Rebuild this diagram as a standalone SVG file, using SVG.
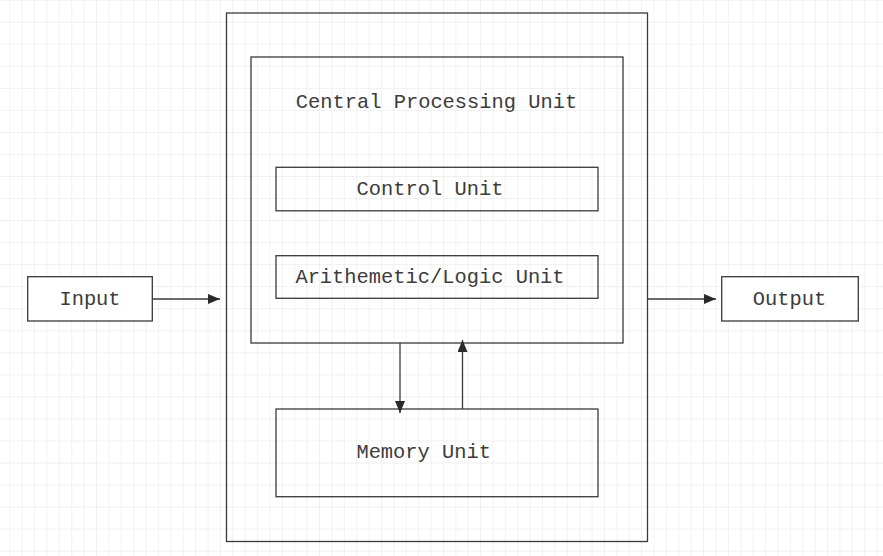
<svg xmlns="http://www.w3.org/2000/svg" width="883" height="556" viewBox="0 0 883 556">
<style>
.box{fill:#ffffff;stroke:#3a3a3a;stroke-width:1.3}
.frame{fill:none;stroke:#3a3a3a;stroke-width:1.3}
.lbl{font-family:"Liberation Mono","Courier New",monospace;font-size:20.4px;fill:#3c3c3c;text-anchor:middle}
.conn{stroke:#3a3a3a;stroke-width:1.3;fill:none}
</style>
<defs>
<pattern id="grid" x="9.3" y="0.66" width="12.39" height="22.04" patternUnits="userSpaceOnUse">
<path d="M0 0V22.04M0 22.04H12.39" fill="none" stroke="#ebebeb" stroke-width="1.3"/>
</pattern>
<marker id="arr" viewBox="0 0 12 10" refX="12" refY="5" markerWidth="12" markerHeight="10" markerUnits="userSpaceOnUse" orient="auto">
<path d="M0 0L12 5L0 10z" fill="#2a2a2a"/>
</marker>
</defs>
<rect width="883" height="556" fill="#ffffff"/>
<rect width="883" height="556" fill="url(#grid)"/>
<g id="computer"><rect class="frame" x="226.5" y="13" width="421" height="528.5"/></g>
<g id="cpu"><rect class="frame" x="251" y="57" width="372" height="286"/>
<text class="lbl" x="436.5" y="108">Central Processing Unit</text></g>
<g id="control-unit"><rect class="frame" x="276" y="167.3" width="322" height="43.5"/>
<text class="lbl" x="430" y="195">Control Unit</text></g>
<g id="alu"><rect class="frame" x="276" y="255.7" width="322" height="42.6"/>
<text class="lbl" x="430" y="283">Arithemetic/Logic Unit</text></g>
<g id="memory-unit"><rect class="frame" x="276" y="409" width="322" height="87.7"/>
<text class="lbl" x="423.7" y="458">Memory Unit</text></g>
<g id="input"><rect class="box" x="27.7" y="276.7" width="124.6" height="44.3"/>
<text class="lbl" x="90" y="305">Input</text></g>
<g id="output"><rect class="box" x="721.7" y="276.7" width="136.6" height="44.3"/>
<text class="lbl" x="789.5" y="305">Output</text></g>
<g id="connectors">
<line class="conn" x1="152.3" y1="299" x2="220" y2="299" marker-end="url(#arr)"/>
<line class="conn" x1="647.5" y1="299" x2="716" y2="299" marker-end="url(#arr)"/>
<line class="conn" x1="400" y1="343" x2="400" y2="413" marker-end="url(#arr)"/>
<line class="conn" x1="462.5" y1="409" x2="462.5" y2="340" marker-end="url(#arr)"/>
</g>
</svg>
